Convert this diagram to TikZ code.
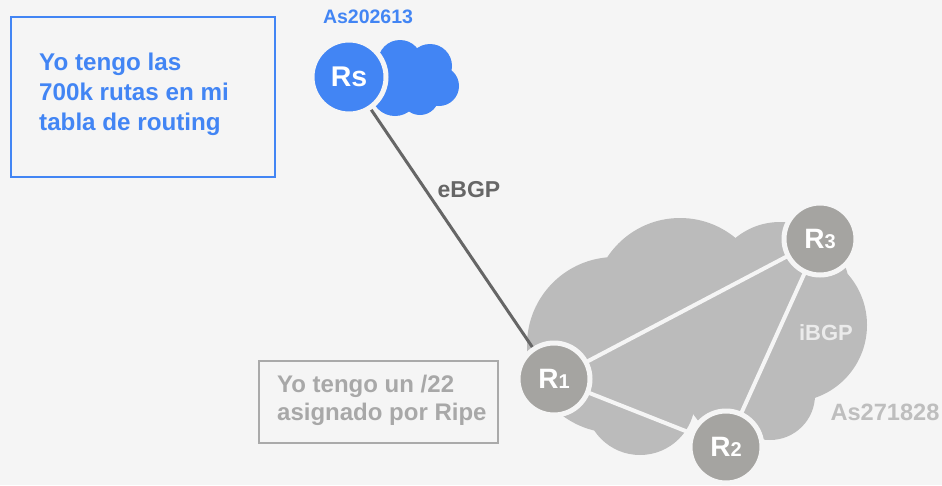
\documentclass[tikz,border=0pt]{standalone}
\usepackage{fontspec}
\setmainfont{Liberation Sans}
\definecolor{bgc}{RGB}{245,245,245}
\definecolor{gblue}{RGB}{66,133,244}
\definecolor{cloudg}{RGB}{187,187,187}
\definecolor{routg}{RGB}{165,164,161}
\definecolor{lineg}{RGB}{102,102,102}
\definecolor{boxg}{RGB}{170,170,170}
\definecolor{txtg}{RGB}{168,168,168}
\definecolor{asg}{RGB}{190,190,190}
\begin{document}
\begin{tikzpicture}[x=1pt,y=-1pt,
  router/.style={circle,fill=routg,draw=bgc,line width=5pt,minimum size=72pt,inner sep=0pt,text=white,font=\bfseries},
  rsnode/.style={circle,fill=gblue,draw=bgc,line width=5pt,minimum size=74pt,inner sep=0pt,text=white,font=\bfseries\fontsize{28.5}{28}\selectfont},
  ibgpline/.style={draw=bgc,line width=4pt},
  lbl/.style={inner sep=0pt,font=\bfseries}
]
\fill[bgc] (0,0) rectangle (942,485);
\useasboundingbox (0,0) rectangle (942,485);

% blue box
\node[draw=gblue,line width=2pt,minimum width=264pt,minimum height=160pt,inner sep=0pt,anchor=north west] (bluebox) at (10,16) {};
\node[lbl,anchor=north west,align=left,text=gblue,font=\bfseries\fontsize{24.2}{30}\selectfont] (bluetxt) at (39,53) {Yo tengo las\\700k rutas en mi\\tabla de routing};

% blue cloud
\fill[gblue] (400,62) circle (22) (430,66) circle (22) (439,86) circle (20)
  (420,96) circle (19) (395,92) circle (24) (415,80) circle (25);

\node[lbl,text=gblue,font=\bfseries\fontsize{19.5}{20}\selectfont] (as1) at (368,17) {As202613};

% gray cloud
\fill[cloudg] (615,345) circle (88) (680,305) circle (87) (780,292) circle (70)
  (790,325) circle (77) (640,400) circle (55) (740,385) circle (55)
  (770,395) circle (45);

% centres
\coordinate (c1) at (554,379);
\coordinate (c2) at (726,447);
\coordinate (c3) at (820,239);
\coordinate (cs) at (349,77);

% connectors
\path[ibgpline] (c1) -- (c3);
\path[ibgpline] (c1) -- (c2);
\path[ibgpline] (c2) -- (c3);
\draw[lineg,line width=3pt] (cs) -- (c1);

% routers
\node[router] (R1) at (c1) {\fontsize{28}{28}\selectfont R\fontsize{20}{20}\selectfont 1};
\node[router] (R2) at (c2) {\fontsize{28}{28}\selectfont R\fontsize{20}{20}\selectfont 2};
\node[router] (R3) at (c3) {\fontsize{28}{28}\selectfont R\fontsize{20}{20}\selectfont 3};
\node[rsnode] (Rs) at (cs) {Rs};

% labels
\node[lbl,text=lineg,font=\bfseries\fontsize{23}{23}\selectfont] (ebgp) at (469,190) {eBGP};
\node[lbl,text=white!92!black,font=\bfseries\fontsize{22}{22}\selectfont] (ibgp) at (826,333) {iBGP};
\node[lbl,text=asg,font=\bfseries\fontsize{23.6}{23}\selectfont] (as2) at (885,412) {As271828};

% gray box
\node[draw=boxg,line width=2pt,minimum width=239pt,minimum height=82pt,inner sep=0pt,anchor=north west] (graybox) at (258,360) {};
\node[lbl,anchor=north west,align=left,text=txtg,font=\bfseries\fontsize{24}{28}\selectfont] (graytxt) at (277,375) {Yo tengo un /22\\asignado por Ripe};
\end{tikzpicture}
\end{document}
